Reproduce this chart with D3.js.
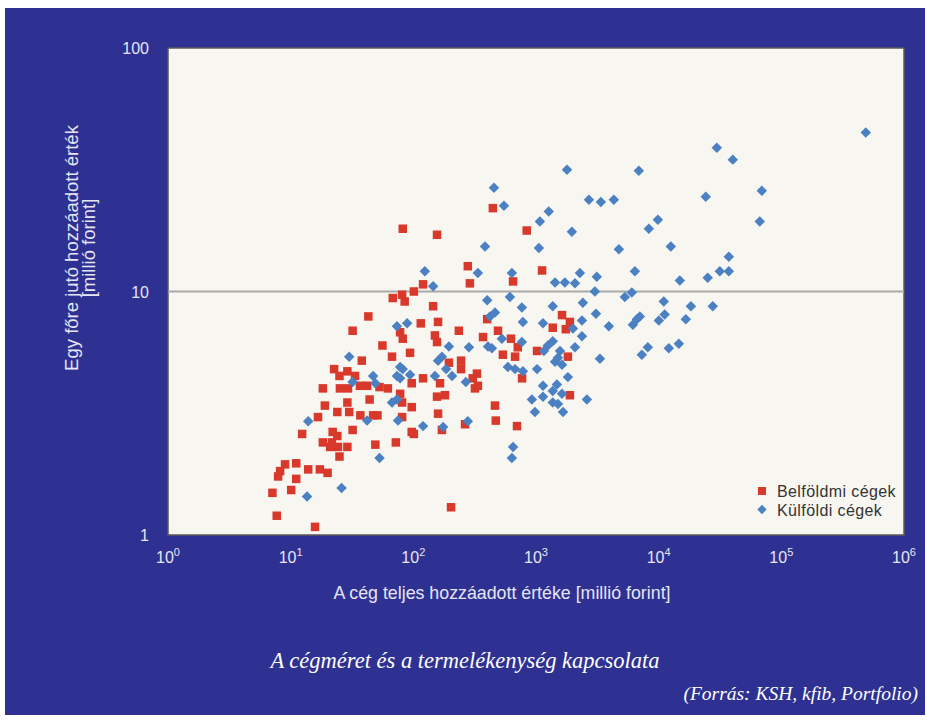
<!DOCTYPE html>
<html>
<head>
<meta charset="utf-8">
<script src="https://cdn.jsdelivr.net/npm/d3@7"></script>
<style>
  body { margin: 0; background: #ffffff; }
  svg { display: block; }
  .tick-label { font-family: "Liberation Sans", Arial, sans-serif; font-size: 16px; fill: #e6e6f2; }
  .axis-title { font-family: "Liberation Sans", Arial, sans-serif; font-size: 17.8px; fill: #e6e6f2; }
  .legend-text { font-family: "Liberation Sans", Arial, sans-serif; font-size: 16px; letter-spacing: 0.4px; fill: #333333; }
  .caption { font-family: "Liberation Serif", "DejaVu Serif", serif; font-style: italic; fill: #ffffff; }
</style>
</head>
<body>
<svg id="chart" width="927" height="724"></svg>
<script>
// Belföldi cégek: [teljes hozzáadott érték, egy főre jutó] (millió Ft)
let belfoldi = [
    [19,3.4],[29,3.5],[16.7,3.05],[24,3.2],[30,3.2],[37,3.1],[47,3.1],[51,3.1],
    [12.4,2.6],[22,2.65],[24,2.55],[32,2.7],[18.3,2.4],[21.7,2.4],[21,2.3],[24.3,2.3],
    [29,2.3],[25,2.1],[49,2.35],[9.0,1.95],[11.1,1.97],[8.2,1.83],[7.9,1.74],[13.9,1.86],
    [17.3,1.86],[20,1.8],[11.1,1.7],[10.1,1.53],[7.1,1.49],[7.7,1.2],[15.8,1.08],
    [43,7.9],[32,6.9],[56,6.0],[38,5.2],[22.6,4.8],[25,4.5],[29,4.7],[33.5,4.5],
    [18.3,4.0],[25.2,4.0],[29.3,4.0],[36.7,4.1],[42,4.1],[53,4.05],[62,4.0],[44,3.6],
    [289,10.8],[650,11.0],[120,10.7],[101,10.0],[81,9.7],[68,9.4],[85,9.1],[145,8.7],
    [400,7.7],[115,7.4],[159,7.5],[235,6.9],[490,6.9],[78,6.8],[82,6.4],[150,6.6],
    [156,6.2],[370,6.5],[625,6.4],[710,5.9],[94,5.6],[67,5.4],[537,5.5],[675,5.4],
    [245,5.2],[195,5.1],[245,4.8],[330,4.6],[305,4.4],[120,4.4],[97,4.2],[165,4.2],
    [318,4.0],[336,4.1],[78,3.8],[156,3.7],[181,3.75],[463,3.4],[97,3.35],
    [81,3.5],[159,3.15],[470,2.95],[700,2.8],[81,3.05],[97,2.65],[101,2.6],[171,2.7],
    [264,2.85],[72,2.4],[203,1.3],
    [1120,12.2],[1630,8.0],[1890,7.5],[1370,7.1],[1750,7.0],[1020,5.7],[1820,5.4],
    [770,4.4],[1890,3.75],
    [445,22],[840,17.8],[156,17.1],[82,18.1],[278,12.7]
];

// Külföldi cégek
let kulfoldi = [
    [13.9,2.93],[42,2.95],[53,2.07],[26,1.56],[13.6,1.44],
    [30,5.4],[32,4.25],[47,4.5],[49,4.2],
    [124,12.1],[336,11.9],[636,11.9],[145,10.5],[400,9.2],[613,9.5],[421,7.9],[463,8.2],
    [73.5,7.2],[89,7.4],[527,6.4],[195,5.95],[284,5.9],[406,5.95],[437,5.85],[171,5.4],
    [159,5.2],[78,4.9],[82,4.8],[590,4.9],[674,4.8],[185,4.8],[207,4.5],[73.5,4.5],
    [94,4.55],[78,4.4],[150,4.5],[268,4.25],[67,3.5],[73.5,3.6],
    [75,2.95],[120,2.8],[175,2.78],[278,2.93],[650,2.3],[636,2.07],
    [2280,11.9],[3130,11.5],[6400,12.1],[1430,10.9],[1720,10.9],[2080,10.8],[3020,10.0],
    [5300,9.5],[6040,9.9],[767,8.6],[1370,8.7],[2410,9.0],[3080,8.1],[6640,7.7],
    [6160,7.3],[7020,7.9],[782,7.5],[2370,7.6],[1140,7.4],[2000,7.05],[3925,7.2],
    [2370,6.55],[767,6.2],[1370,6.25],[1250,6.0],[1160,5.7],[1570,5.7],[1510,5.35],
    [2080,5.9],[8160,5.9],[7290,5.5],[3320,5.3],[1630,5.0],[1430,5.15],[1020,4.8],
    [782,4.7],[1820,4.45],[1140,4.1],[1480,4.15],[1370,3.9],[1630,3.8],[926,3.6],
    [1140,3.7],[1370,3.5],[1510,3.45],[2600,3.6],[980,3.2],[1660,3.2],
    [488000,45],[29800,38.9],[40200,34.8],[1790,31.6],[6890,31.3],[454,26.7],
    [69300,25.9],[24200,24.5],[2700,23.8],[3380,23.3],[4310,23.8],[548,22.5],
    [1270,21.3],[9850,19.7],[66700,19.4],[1076,19.4],[1960,17.6],[8310,18.1],
    [384,15.3],[4740,14.9],[12560,15.3],[37300,13.9],[1056,15.1],[14870,11.1],
    [25100,11.4],[31500,12.1],[37300,12.1],[11000,9.1],[18300,8.7],[27600,8.7],
    [11200,8.05],[10030,7.6],[16650,7.7],[14600,6.1],[12100,5.85]
];

let xTicks = [1, 10, 100, 1000, 10000, 100000, 1000000];
let xExponents = ['0', '1', '2', '3', '4', '5', '6'];
let yTicks = [1, 10, 100];
let yTickLabels = ['1', '10', '100'];
let legendLabels = ['Belföldmi cégek', 'Külföldi cégek'];

var plot = { left: 168, right: 904, top: 48, bottom: 535 };

var svg = d3.select('#chart');

// blue panel behind everything
svg.append('rect')
    .attr('x', 5).attr('y', 8)
    .attr('width', 920).attr('height', 707)
    .attr('fill', '#2e3192');

var x = d3.scaleLog().domain([1, 1e6]).range([plot.left, plot.right]);
var y = d3.scaleLog().domain([1, 100]).range([plot.bottom, plot.top]);

// plot area with a dark frame
svg.append('rect')
    .attr('x', plot.left).attr('y', plot.top)
    .attr('width', plot.right - plot.left)
    .attr('height', plot.bottom - plot.top)
    .attr('fill', '#f8f6f1')
    .attr('stroke', '#5a5a5a')
    .attr('stroke-width', 1.5);

// only the 10 line is drawn inside
svg.append('line')
    .attr('x1', plot.left).attr('x2', plot.right)
    .attr('y1', y(10)).attr('y2', y(10))
    .attr('stroke', '#a9a9a9')
    .attr('stroke-width', 2);

// y tick labels
svg.selectAll('text.ylab')
    .data(yTicks)
    .join('text')
    .attr('class', 'tick-label ylab')
    .attr('x', 149)
    .attr('y', d => y(d) + 6)
    .attr('text-anchor', 'end')
    .text((d, i) => yTickLabels[i]);

// x tick labels with superscript exponent
var xl = svg.selectAll('text.xlab')
    .data(xTicks)
    .join('text')
    .attr('class', 'tick-label xlab')
    .attr('x', d => x(d))
    .attr('y', 563)
    .attr('text-anchor', 'middle');
xl.append('tspan').text('10');
xl.append('tspan')
    .attr('dy', -7)
    .style('font-size', '11px')
    .text((d, i) => xExponents[i]);

// axis titles
svg.append('text')
    .attr('class', 'axis-title')
    .attr('x', 502).attr('y', 599)
    .attr('text-anchor', 'middle')
    .text('A cég teljes hozzáadott értéke [millió forint]');

var yt = svg.append('text')
    .attr('class', 'axis-title')
    .attr('transform', 'translate(78,248) rotate(-90)')
    .attr('text-anchor', 'middle')
    .style('font-size', '18.5px');
yt.append('tspan').attr('x', 0).attr('dy', 0).text('Egy főre jutó hozzáadott érték');
yt.append('tspan').attr('x', 0).attr('dy', 17).text('[millió forint]');

// points
var sq = 8.5;
svg.append('g')
    .selectAll('rect')
    .data(belfoldi)
    .join('rect')
    .attr('x', d => x(d[0]) - sq / 2)
    .attr('y', d => y(d[1]) - sq / 2)
    .attr('width', sq).attr('height', sq)
    .attr('fill', '#d8392b');

var diamond = d3.symbol().type(d3.symbolDiamond2).size(70);
svg.append('g')
    .selectAll('path')
    .data(kulfoldi)
    .join('path')
    .attr('transform', d => 'translate(' + x(d[0]) + ',' + y(d[1]) + ')')
    .attr('d', diamond)
    .attr('fill', '#4b80c3');

// legend
var lg = svg.append('g').attr('transform', 'translate(762,491)');
lg.append('rect')
    .attr('x', -4).attr('y', -4)
    .attr('width', 8).attr('height', 8)
    .attr('fill', '#d8392b');
lg.append('path')
    .attr('transform', 'translate(0,18.5)')
    .attr('d', d3.symbol().type(d3.symbolDiamond2).size(55))
    .attr('fill', '#4b80c3');
lg.selectAll('text')
    .data(legendLabels)
    .join('text')
    .attr('class', 'legend-text')
    .attr('x', 15)
    .attr('y', (d, i) => i * 18.5 + 6)
    .text(d => d);

// caption and source
svg.append('text')
    .attr('class', 'caption')
    .attr('x', 465).attr('y', 668)
    .attr('text-anchor', 'middle')
    .style('font-size', '22.5px')
    .text('A cégméret és a termelékenység kapcsolata');

svg.append('text')
    .attr('class', 'caption')
    .attr('x', 918).attr('y', 700)
    .attr('text-anchor', 'end')
    .style('font-size', '19.5px')
    .text('(Forrás: KSH, kfib, Portfolio)');
</script>
</body>
</html>
